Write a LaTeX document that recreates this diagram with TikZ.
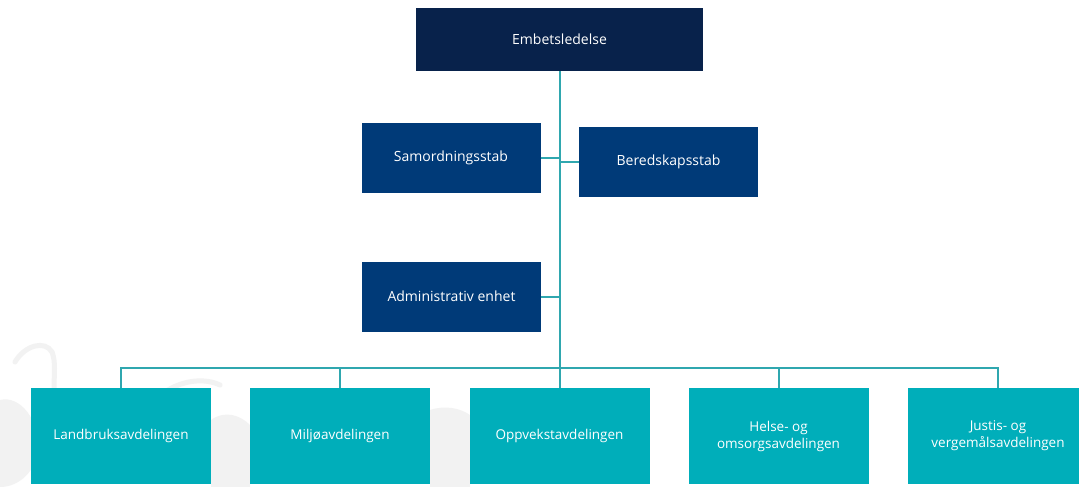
\documentclass[tikz,border=0pt]{standalone}
\usepackage{fontspec}
\setmainfont{Open Sans}
\definecolor{topnavy}{HTML}{08224B}
\definecolor{stabblue}{HTML}{003A78}
\definecolor{deptteal}{HTML}{00AEBA}
\definecolor{linkteal}{HTML}{2FA7AF}
\definecolor{wmgray}{HTML}{F2F2F2}
\tikzset{
  box/.style={rectangle, minimum width=#1, inner sep=0pt, align=center, text=white},
  topbox/.style={box=287pt, minimum height=63pt, fill=topnavy, font=\fontsize{14}{17}\selectfont},
  stabbox/.style={box=179pt, minimum height=70pt, fill=stabblue, font=\fontsize{14}{17}\selectfont},
  deptbox/.style={box=180pt, minimum height=96pt, fill=deptteal, font=\fontsize{13.5}{17}\selectfont},
  link/.style={draw=linkteal, line width=2pt},
  wm/.style={draw=wmgray, line width=5pt, line cap=round}
}
\begin{document}
\begin{tikzpicture}[x=1pt,y=-1pt]
\useasboundingbox[fill=white] (0,0) rectangle (1079,487);
% faint watermark shapes
\fill[wmgray] (0,400) .. controls (20,395) and (40,420) .. (38,450) .. controls (36,470) and (20,487) .. (0,487) -- cycle;
\draw[wm] (15,362) .. controls (25,345) and (45,340) .. (52,352);
\draw[wm] (52,352) .. controls (56,362) and (54,375) .. (54,388);
\fill[wmgray] (211,420) .. controls (225,410) and (240,415) .. (250,425) -- (250,487) -- (211,487) -- cycle;
\draw[wm] (168,390) .. controls (185,380) and (205,378) .. (220,385);
\fill[wmgray] (430,410) .. controls (445,405) and (460,408) .. (470,415) -- (470,487) -- (430,487) -- cycle;
\draw[wm] (452,425) .. controls (445,445) and (448,465) .. (458,480);
% nodes
\node[topbox] (emb) at (559.5,39.5) {Embetsledelse};
\node[stabbox] (sam) at (451,158) {Samordningsstab};
\node[stabbox] (ber) at (668.5,161.5) {Beredskapsstab};
\node[stabbox] (adm) at (451.5,296.5) {Administrativ enhet};
\node[deptbox] (d1) at (121,436) {Landbruksavdelingen};
\node[deptbox] (d2) at (340,436) {Miljøavdelingen};
\node[deptbox] (d3) at (559.5,436) {Oppvekstavdelingen};
\node[deptbox] (d4) at (778.5,436) {Helse- og\\omsorgsavdelingen};
\node[deptbox] (d5) at (998,436) {Justis- og\\vergemålsavdelingen};
\coordinate (spine) at (559.5,368);
% connectors
\draw[link] (emb.south) -- (spine);
\draw[link] (sam.east) -- (sam.east -| spine);
\draw[link] (ber.west) -- (ber.west -| spine);
\draw[link] (adm.east) -- (adm.east -| spine);
\draw[link] (d1.north) -- (d1.north |- spine) -- (d5.north |- spine) -- (d5.north);
\draw[link] (d2.north) -- (d2.north |- spine);
\draw[link] (d3.north) -- (d3.north |- spine);
\draw[link] (d4.north) -- (d4.north |- spine);
\end{tikzpicture}
\end{document}
